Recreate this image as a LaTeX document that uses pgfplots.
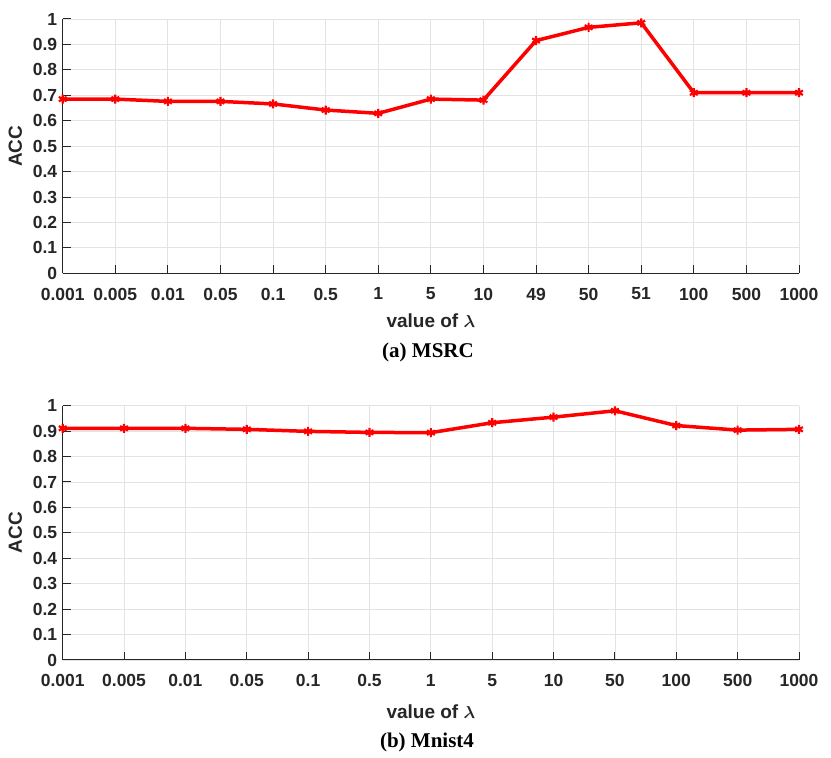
\documentclass[border=0pt]{standalone}
\usepackage{fontspec}
\setmainfont{Liberation Sans}
\newfontfamily\capfont{Liberation Serif}
\usepackage{amsmath}
\usepackage{pgfplots}
\pgfplotsset{compat=1.18}
\definecolor{txt}{HTML}{262626}
\definecolor{gridc}{HTML}{E3E3E3}
\pgfplotsset{
  myaxis/.style={
    scale only axis, width=736.3pt, height=254.3pt,
    axis lines=left, axis line style={-, txt, line width=1pt},
    ymin=0, ymax=1, ytick={0,0.1,...,1.0},
    yticklabels={0,0.1,0.2,0.3,0.4,0.5,0.6,0.7,0.8,0.9,1},
    tick align=inside, major tick length=8pt,
    tick style={txt, line width=1pt},
    grid=major, major grid style={gridc, line width=0.8pt},
    ticklabel style={font=\fontsize{17.5}{20}\selectfont\bfseries, text=txt},
    xticklabel style={yshift=-11pt},
    yticklabel style={xshift=-2pt},
    label style={font=\fontsize{19}{22}\selectfont\bfseries, text=txt},
    ylabel style={yshift=4pt},
    xlabel={value of $\boldsymbol{\lambda}$},
    ylabel={ACC},
    xtick=data,
    clip=false,
  },
  myline/.style={red, line width=3.5pt, mark=asterisk, mark size=4.5pt, mark options={line width=2.2pt}},
}
\begin{document}
\begin{tikzpicture}
\path[use as bounding box] (0,0) rectangle (831pt,758pt);
\begin{axis}[myaxis, at={(62.7pt,484.7pt)}, anchor=south west,
  xmin=0, xmax=14, xlabel style={yshift=-7pt},
  xticklabels={0.001,0.005,0.01,0.05,0.1,0.5,1,5,10,49,50,51,100,500,1000}]
\addplot[myline] coordinates {(0,0.685)(1,0.685)(2,0.676)(3,0.676)(4,0.666)(5,0.642)(6,0.629)(7,0.685)(8,0.681)(9,0.915)(10,0.967)(11,0.985)(12,0.710)(13,0.710)(14,0.710)};
\end{axis}
\node[font=\capfont\fontsize{21}{24}\selectfont\bfseries] at (428pt,406pt) {(a) MSRC};
\begin{axis}[myaxis, at={(62.7pt,98pt)}, anchor=south west,
  xmin=0, xmax=12, xlabel style={yshift=-11pt},
  xticklabels={0.001,0.005,0.01,0.05,0.1,0.5,1,5,10,50,100,500,1000}]
\addplot[myline] coordinates {(0,0.911)(1,0.911)(2,0.911)(3,0.907)(4,0.899)(5,0.895)(6,0.894)(7,0.933)(8,0.955)(9,0.980)(10,0.922)(11,0.904)(12,0.907)};
\end{axis}
\node[font=\capfont\fontsize{21}{24}\selectfont\bfseries] at (427pt,15.5pt) {(b) Mnist4};
\end{tikzpicture}
\end{document}
